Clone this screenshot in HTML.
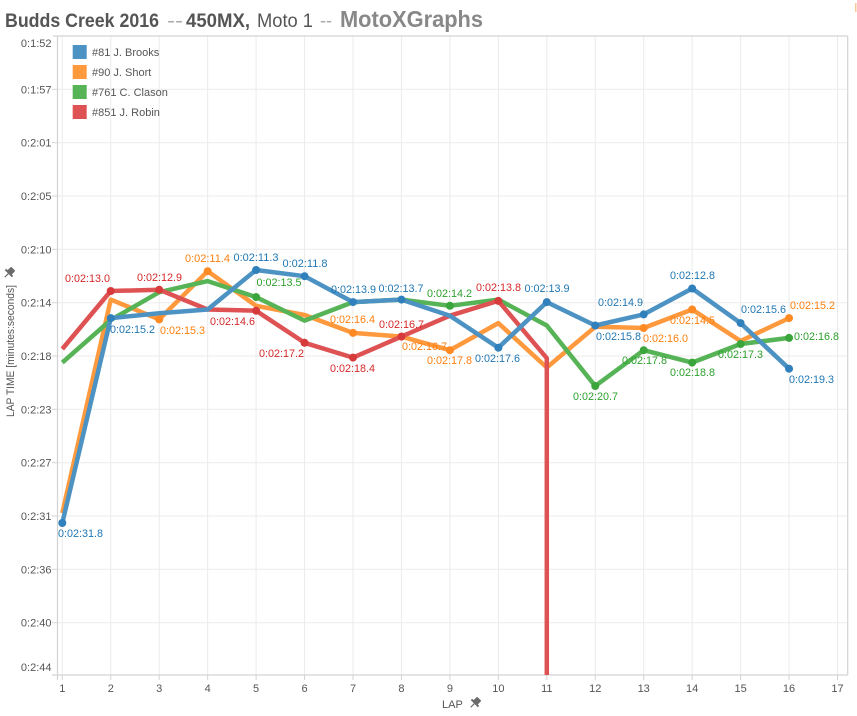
<!DOCTYPE html>
<html><head><meta charset="utf-8"><style>
html,body{margin:0;padding:0;background:#fff;}
svg{display:block;font-family:"Liberation Sans",Arial,sans-serif;}
</style></head><body>
<svg width="857" height="716" viewBox="0 0 857 716" xmlns="http://www.w3.org/2000/svg">
<defs><clipPath id="pc"><rect x="57.5" y="36" width="290.2" height="639" transform="scale(1)"/></clipPath>
<clipPath id="plot"><rect x="57.5" y="36" width="790.2" height="639"/></clipPath></defs>
<!-- title -->
<text x="5" y="27" font-size="19" font-weight="bold" fill="#555" textLength="154" lengthAdjust="spacingAndGlyphs">Budds Creek 2016</text>
<text x="167" y="27" font-size="19" fill="#aaa" textLength="16" lengthAdjust="spacingAndGlyphs">--</text>
<text x="186" y="27" font-size="19" font-weight="bold" fill="#555" textLength="64" lengthAdjust="spacingAndGlyphs">450MX,</text>
<text x="257" y="27" font-size="19" fill="#555" textLength="56" lengthAdjust="spacingAndGlyphs">Moto 1</text>
<text x="320" y="27" font-size="19" fill="#aaa" textLength="12" lengthAdjust="spacingAndGlyphs">--</text>
<text x="340" y="27" font-size="23" font-weight="bold" fill="#888" textLength="143" lengthAdjust="spacingAndGlyphs">MotoXGraphs</text>
<rect x="855" y="3" width="1.5" height="9" fill="#fbc99a"/>
<!-- gridlines -->
<g stroke="#ebebeb" stroke-width="1">
<line x1="57.5" x2="847.7" y1="89.3" y2="89.3"/><line x1="57.5" x2="847.7" y1="142.7" y2="142.7"/>
<line x1="57.5" x2="847.7" y1="196" y2="196"/><line x1="57.5" x2="847.7" y1="249.3" y2="249.3"/>
<line x1="57.5" x2="847.7" y1="302.7" y2="302.7"/><line x1="57.5" x2="847.7" y1="356" y2="356"/>
<line x1="57.5" x2="847.7" y1="409.3" y2="409.3"/><line x1="57.5" x2="847.7" y1="462.7" y2="462.7"/>
<line x1="57.5" x2="847.7" y1="516" y2="516"/><line x1="57.5" x2="847.7" y1="569.3" y2="569.3"/>
<line x1="57.5" x2="847.7" y1="622.7" y2="622.7"/>
<line x1="62.3" x2="62.3" y1="36" y2="675"/><line x1="110.75" x2="110.75" y1="36" y2="675"/>
<line x1="159.2" x2="159.2" y1="36" y2="675"/><line x1="207.65" x2="207.65" y1="36" y2="675"/>
<line x1="256.1" x2="256.1" y1="36" y2="675"/><line x1="304.55" x2="304.55" y1="36" y2="675"/>
<line x1="353" x2="353" y1="36" y2="675"/><line x1="401.45" x2="401.45" y1="36" y2="675"/>
<line x1="449.9" x2="449.9" y1="36" y2="675"/><line x1="498.35" x2="498.35" y1="36" y2="675"/>
<line x1="546.8" x2="546.8" y1="36" y2="675"/><line x1="595.25" x2="595.25" y1="36" y2="675"/>
<line x1="643.7" x2="643.7" y1="36" y2="675"/><line x1="692.15" x2="692.15" y1="36" y2="675"/>
<line x1="740.6" x2="740.6" y1="36" y2="675"/><line x1="789.05" x2="789.05" y1="36" y2="675"/>
<line x1="837.5" x2="837.5" y1="36" y2="675"/>
</g>
<!-- axes/border -->
<g stroke="#d3d3d3" stroke-width="1.2" fill="none">
<line x1="53" x2="847.7" y1="36" y2="36"/>
<line x1="847.7" x2="847.7" y1="36" y2="675"/>
<line x1="57.5" x2="57.5" y1="36" y2="680"/>
<line x1="52" x2="847.7" y1="675" y2="675"/>
</g>
<g stroke="#d3d3d3" stroke-width="1">
<line x1="52" x2="57.5" y1="89.3" y2="89.3"/><line x1="52" x2="57.5" y1="142.7" y2="142.7"/>
<line x1="52" x2="57.5" y1="196" y2="196"/><line x1="52" x2="57.5" y1="249.3" y2="249.3"/>
<line x1="52" x2="57.5" y1="302.7" y2="302.7"/><line x1="52" x2="57.5" y1="356" y2="356"/>
<line x1="52" x2="57.5" y1="409.3" y2="409.3"/><line x1="52" x2="57.5" y1="462.7" y2="462.7"/>
<line x1="52" x2="57.5" y1="516" y2="516"/><line x1="52" x2="57.5" y1="569.3" y2="569.3"/>
<line x1="52" x2="57.5" y1="622.7" y2="622.7"/>
<line x1="62.3" x2="62.3" y1="675" y2="680"/><line x1="110.75" x2="110.75" y1="675" y2="680"/>
<line x1="159.2" x2="159.2" y1="675" y2="680"/><line x1="207.65" x2="207.65" y1="675" y2="680"/>
<line x1="256.1" x2="256.1" y1="675" y2="680"/><line x1="304.55" x2="304.55" y1="675" y2="680"/>
<line x1="353" x2="353" y1="675" y2="680"/><line x1="401.45" x2="401.45" y1="675" y2="680"/>
<line x1="449.9" x2="449.9" y1="675" y2="680"/><line x1="498.35" x2="498.35" y1="675" y2="680"/>
<line x1="546.8" x2="546.8" y1="675" y2="680"/><line x1="595.25" x2="595.25" y1="675" y2="680"/>
<line x1="643.7" x2="643.7" y1="675" y2="680"/><line x1="692.15" x2="692.15" y1="675" y2="680"/>
<line x1="740.6" x2="740.6" y1="675" y2="680"/><line x1="789.05" x2="789.05" y1="675" y2="680"/>
<line x1="837.5" x2="837.5" y1="675" y2="680"/>
</g>
<!-- y tick labels -->
<g font-size="11" fill="#555" text-anchor="end">
<text x="51.5" y="47">0:1:52</text>
<text x="51.5" y="93.3">0:1:57</text>
<text x="51.5" y="146.7">0:2:01</text>
<text x="51.5" y="200">0:2:05</text>
<text x="51.5" y="253.3">0:2:10</text>
<text x="51.5" y="306.7">0:2:14</text>
<text x="51.5" y="360">0:2:18</text>
<text x="51.5" y="413.3">0:2:23</text>
<text x="51.5" y="466.7">0:2:27</text>
<text x="51.5" y="520">0:2:31</text>
<text x="51.5" y="573.3">0:2:36</text>
<text x="51.5" y="626.7">0:2:40</text>
<text x="51.5" y="671">0:2:44</text>
</g>
<!-- x tick labels -->
<g font-size="11" fill="#555" text-anchor="middle">
<text x="62.3" y="692">1</text><text x="110.75" y="692">2</text><text x="159.2" y="692">3</text>
<text x="207.65" y="692">4</text><text x="256.1" y="692">5</text><text x="304.55" y="692">6</text>
<text x="353" y="692">7</text><text x="401.45" y="692">8</text><text x="449.9" y="692">9</text>
<text x="498.35" y="692">10</text><text x="546.8" y="692">11</text><text x="595.25" y="692">12</text>
<text x="643.7" y="692">13</text><text x="692.15" y="692">14</text><text x="740.6" y="692">15</text>
<text x="789.05" y="692">16</text><text x="837.5" y="692">17</text>
</g>
<!-- axis titles -->
<text x="442" y="708" font-size="11" fill="#555">LAP</text>
<g transform="translate(475,703) rotate(45)" fill="#6b6b6b">
<rect x="-3" y="-6" width="6" height="6" rx="1"/><rect x="-5" y="-1" width="10" height="2"/><rect x="-0.6" y="1" width="1.2" height="5"/>
</g>
<text transform="translate(14,417) rotate(-90)" font-size="11" fill="#555" textLength="132" lengthAdjust="spacingAndGlyphs">LAP TIME [minutes:seconds]</text>
<g transform="translate(9,273) rotate(45)" fill="#6b6b6b">
<rect x="-3" y="-6" width="6" height="6" rx="1"/><rect x="-5" y="-1" width="10" height="2"/><rect x="-0.6" y="1" width="1.2" height="5"/>
</g>
<!-- series -->
<g clip-path="url(#plot)" fill="none" stroke-width="4.5" stroke-linejoin="round" stroke-linecap="butt">
<polyline stroke="#ff993e" points="62.3,513.1 110.75,299.6 159.2,319.4 207.65,271.2 256.1,305.8 304.55,315 353,332.9 401.45,336.6 449.9,350.2 498.35,323.1 546.8,367.5 595.25,326.8 643.7,328 692.15,309.5 740.6,341 789.05,318.1"/>
<polyline stroke="#56b356" points="62.3,362.6 110.75,320 159.2,292.2 207.65,281.1 256.1,297.1 304.55,320.6 353,302.1 401.45,299.6 449.9,305.8 498.35,299.6 546.8,325.5 595.25,386 643.7,350.2 692.15,362.6 740.6,344 789.05,337.9"/>
<polyline stroke="#de5253" points="62.3,349 110.75,291 159.2,289.7 207.65,309.5 256.1,310.7 304.55,342.8 353,357.6 401.45,336.6 449.9,315.7 498.35,300.9 546.8,358.2 546.8,720"/>
<polyline stroke="#4c92c3" points="62.3,523 110.75,318.1 159.2,313.2 207.65,309.5 256.1,270 304.55,276.2 353,302.1 401.45,299.6 449.9,315.7 498.35,347.7 546.8,302.1 595.25,325.5 643.7,314.4 692.15,288.5 740.6,323.1 789.05,368.7"/>
</g>
<!-- dots -->
<g fill="#ff8a24">
<circle cx="159.2" cy="319.4" r="4"/><circle cx="207.65" cy="271.2" r="4"/><circle cx="353" cy="332.9" r="4"/>
<circle cx="401.45" cy="336.6" r="4"/><circle cx="449.9" cy="350.2" r="4"/><circle cx="643.7" cy="328" r="4"/>
<circle cx="692.15" cy="309.5" r="4"/><circle cx="789.05" cy="318.1" r="4"/>
</g>
<g fill="#3aa53a">
<circle cx="256.1" cy="297.1" r="4"/><circle cx="449.9" cy="305.8" r="4"/><circle cx="595.25" cy="386" r="4"/>
<circle cx="643.7" cy="350.2" r="4"/><circle cx="692.15" cy="362.6" r="4"/><circle cx="740.6" cy="344" r="4"/>
<circle cx="789.05" cy="337.9" r="4"/>
</g>
<g fill="#d73a3b">
<circle cx="110.75" cy="291" r="4"/><circle cx="159.2" cy="289.7" r="4"/><circle cx="256.1" cy="310.7" r="4"/>
<circle cx="304.55" cy="342.8" r="4"/><circle cx="353" cy="357.6" r="4"/><circle cx="401.45" cy="336.6" r="4"/>
<circle cx="498.35" cy="300.9" r="4"/>
</g>
<g fill="#2f80bb">
<circle cx="62.3" cy="523" r="4"/><circle cx="110.75" cy="318.1" r="4"/><circle cx="256.1" cy="270" r="4"/>
<circle cx="304.55" cy="276.2" r="4"/><circle cx="353" cy="302.1" r="4"/><circle cx="401.45" cy="299.6" r="4"/>
<circle cx="498.35" cy="347.7" r="4"/><circle cx="546.8" cy="302.1" r="4"/><circle cx="595.25" cy="325.5" r="4"/>
<circle cx="643.7" cy="314.4" r="4"/><circle cx="692.15" cy="288.5" r="4"/><circle cx="740.6" cy="323.1" r="4"/>
<circle cx="789.05" cy="368.7" r="4"/>
</g>
<!-- data labels -->
<g font-size="11" fill="#1f77b4">
<text x="58" y="537" textLength="45" lengthAdjust="spacingAndGlyphs">0:02:31.8</text>
<text x="110" y="333" textLength="45" lengthAdjust="spacingAndGlyphs">0:02:15.2</text>
<text x="233.5" y="261" textLength="45" lengthAdjust="spacingAndGlyphs">0:02:11.3</text>
<text x="282.5" y="267" textLength="45" lengthAdjust="spacingAndGlyphs">0:02:11.8</text>
<text x="331" y="293" textLength="45" lengthAdjust="spacingAndGlyphs">0:02:13.9</text>
<text x="378.5" y="292" textLength="45" lengthAdjust="spacingAndGlyphs">0:02:13.7</text>
<text x="475" y="362" textLength="45" lengthAdjust="spacingAndGlyphs">0:02:17.6</text>
<text x="524.5" y="292" textLength="45" lengthAdjust="spacingAndGlyphs">0:02:13.9</text>
<text x="598" y="306" textLength="45" lengthAdjust="spacingAndGlyphs">0:02:14.9</text>
<text x="596" y="340" textLength="45" lengthAdjust="spacingAndGlyphs">0:02:15.8</text>
<text x="670" y="279" textLength="45" lengthAdjust="spacingAndGlyphs">0:02:12.8</text>
<text x="741" y="313" textLength="45" lengthAdjust="spacingAndGlyphs">0:02:15.6</text>
<text x="789" y="383" textLength="45" lengthAdjust="spacingAndGlyphs">0:02:19.3</text>
</g>
<g font-size="11" fill="#ff7f0e">
<text x="160" y="334" textLength="45" lengthAdjust="spacingAndGlyphs">0:02:15.3</text>
<text x="185" y="262" textLength="45" lengthAdjust="spacingAndGlyphs">0:02:11.4</text>
<text x="330" y="323" textLength="45" lengthAdjust="spacingAndGlyphs">0:02:16.4</text>
<text x="402" y="350" textLength="45" lengthAdjust="spacingAndGlyphs">0:02:16.7</text>
<text x="427" y="364" textLength="45" lengthAdjust="spacingAndGlyphs">0:02:17.8</text>
<text x="643" y="342" textLength="45" lengthAdjust="spacingAndGlyphs">0:02:16.0</text>
<text x="670" y="324" textLength="45" lengthAdjust="spacingAndGlyphs">0:02:14.5</text>
<text x="790" y="309" textLength="45" lengthAdjust="spacingAndGlyphs">0:02:15.2</text>
</g>
<g font-size="11" fill="#2ca02c">
<text x="256.5" y="286" textLength="45" lengthAdjust="spacingAndGlyphs">0:02:13.5</text>
<text x="427" y="297" textLength="45" lengthAdjust="spacingAndGlyphs">0:02:14.2</text>
<text x="573" y="400" textLength="45" lengthAdjust="spacingAndGlyphs">0:02:20.7</text>
<text x="622" y="364" textLength="45" lengthAdjust="spacingAndGlyphs">0:02:17.8</text>
<text x="670" y="376" textLength="45" lengthAdjust="spacingAndGlyphs">0:02:18.8</text>
<text x="718" y="358" textLength="45" lengthAdjust="spacingAndGlyphs">0:02:17.3</text>
<text x="794" y="340" textLength="45" lengthAdjust="spacingAndGlyphs">0:02:16.8</text>
</g>
<g font-size="11" fill="#d62728">
<text x="65" y="282" textLength="45" lengthAdjust="spacingAndGlyphs">0:02:13.0</text>
<text x="137" y="281" textLength="45" lengthAdjust="spacingAndGlyphs">0:02:12.9</text>
<text x="210" y="325" textLength="45" lengthAdjust="spacingAndGlyphs">0:02:14.6</text>
<text x="259" y="357" textLength="45" lengthAdjust="spacingAndGlyphs">0:02:17.2</text>
<text x="330" y="372" textLength="45" lengthAdjust="spacingAndGlyphs">0:02:18.4</text>
<text x="379" y="328" textLength="45" lengthAdjust="spacingAndGlyphs">0:02:16.7</text>
<text x="476" y="291" textLength="45" lengthAdjust="spacingAndGlyphs">0:02:13.8</text>
</g>
<!-- legend -->
<rect x="72.7" y="45" width="14" height="14" fill="#4c92c3"/>
<rect x="72.7" y="65" width="14" height="14" fill="#ff993e"/>
<rect x="72.7" y="85" width="14" height="14" fill="#56b356"/>
<rect x="72.7" y="105" width="14" height="14" fill="#de5253"/>
<g font-size="11" fill="#555">
<text x="92" y="56">#81 J. Brooks</text>
<text x="92" y="76">#90 J. Short</text>
<text x="92" y="96">#761 C. Clason</text>
<text x="92" y="116">#851 J. Robin</text>
</g>
</svg>
</body></html>
